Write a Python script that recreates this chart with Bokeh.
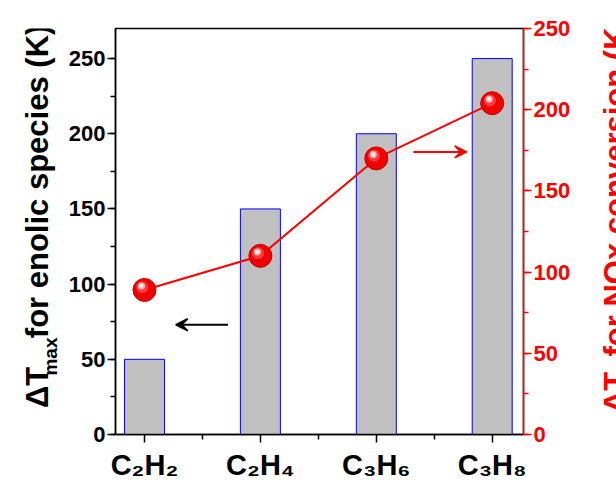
import math
from bokeh.plotting import figure
from bokeh.layouts import row
from bokeh.models import (Range1d, LinearAxis, SingleIntervalTicker, FixedTicker,
                          Arrow, VeeHead, ColumnDataSource)
from bokeh.core.properties import value
from bokeh.transform import dodge
from bokeh.embed import file_html
from bokeh.resources import INLINE

# ---- data ----
categories = ["C\u2082H\u2082", "C\u2082H\u2084", "C\u2083H\u2086", "C\u2083H\u2088"]
xpos = [1, 2, 3, 4]
dT_max = [50, 150, 200, 250]       # left axis, bars
dT_50 = [89, 110, 170, 204]        # right axis, red spheres
left_title_parts = ["\u0394T", "max", "for enolic species (K)"]
right_title_parts = ["\u0394T", "50", "for NOx conversion (K)"]
left_ticks_interval = 50
right_ticks_interval = 50
# arrow annotations (data coords)
black_arrow = dict(x_start=1.72, x_end=1.27, y=73)
red_arrow = dict(x_start=3.32, x_end=3.78, y=174)

FONT = "Liberation Sans"
H = 489
LW, RW = 58, 40
MW = 616 - LW - RW

p = figure(width=MW, height=H, output_backend="svg", toolbar_location=None,
           x_range=Range1d(0.75, 4.27), y_range=Range1d(0, 270),
           min_border_left=57, min_border_right=53, min_border_top=28,
           min_border_bottom=55, background_fill_color="white",
           border_fill_color="white")
p.extra_y_ranges = {"right": Range1d(0, 250)}
p.grid.visible = False
p.outline_line_color = "black"
p.outline_line_width = 1.5

src = ColumnDataSource(dict(x=xpos, bar=dT_max, t50=dT_50))

# bars
p.vbar(x="x", top="bar", width=0.345, source=src, fill_color="#c0c0c0",
       line_color="#0000ff", line_width=1)

# line + spheres
rr = p.extra_y_ranges["right"]
p.line(x="x", y="t50", source=src, y_range_name="right", line_color="#ff0000",
       line_width=2)
p.scatter(x="x", y="t50", source=src, y_range_name="right", size=23,
          fill_color="#f00000", line_color="#c80000", line_width=1)
p.scatter(x=dodge("x", -0.02, range=p.x_range), y=dodge("t50", 1.6, range=rr),
          source=src, y_range_name="right", size=12, fill_color="#ff4040",
          line_color=None, fill_alpha=0.9)
p.scatter(x=dodge("x", -0.026, range=p.x_range), y=dodge("t50", 2.4, range=rr),
          source=src, y_range_name="right", size=7, fill_color="#ffb8b8",
          line_color=None)
p.scatter(x=dodge("x", -0.027, range=p.x_range), y=dodge("t50", 2.6, range=rr),
          source=src, y_range_name="right", size=3.5, fill_color="#ffffff",
          line_color=None)

# arrows
p.add_layout(Arrow(end=VeeHead(size=12, fill_color="black", line_color="black", line_width=1.5),
                   x_start=black_arrow["x_start"], y_start=black_arrow["y"],
                   x_end=black_arrow["x_end"], y_end=black_arrow["y"],
                   line_color="black", line_width=2))
p.add_layout(Arrow(end=VeeHead(size=12, fill_color="#ff0000", line_color="#ff0000", line_width=1.5),
                   x_start=red_arrow["x_start"], y_start=red_arrow["y"],
                   x_end=red_arrow["x_end"], y_end=red_arrow["y"],
                   y_range_name="right", line_color="#ff0000", line_width=2))


def style_axis(ax, color):
    ax.axis_line_color = color
    ax.axis_line_width = 1.5
    ax.major_tick_line_color = color
    ax.minor_tick_line_color = color
    ax.major_tick_line_width = 1.5
    ax.minor_tick_line_width = 1.5
    ax.major_tick_out = 8
    ax.major_tick_in = 0
    ax.minor_tick_out = 5
    ax.minor_tick_in = 0
    ax.major_label_text_color = color
    ax.major_label_text_font = FONT
    ax.major_label_text_font_style = "bold"
    ax.major_label_standoff = 2


# left axis
ya = p.yaxis[0]
ya.ticker = SingleIntervalTicker(interval=left_ticks_interval, num_minor_ticks=2)
style_axis(ya, "black")
ya.major_label_text_font_size = "22px"

# right axis
ra = LinearAxis(y_range_name="right",
                ticker=SingleIntervalTicker(interval=right_ticks_interval, num_minor_ticks=2))
style_axis(ra, "#ff0000")
ra.major_label_text_font_size = "22px"
p.add_layout(ra, "right")

# bottom axis
xa = p.xaxis[0]
xa.ticker = FixedTicker(ticks=xpos, minor_ticks=[1.5, 2.5, 3.5])
style_axis(xa, "black")
xa.major_label_overrides = {x: c for x, c in zip(xpos, categories)}
xa.major_label_text_font_size = "29px"
xa.major_label_standoff = 6


# side strips holding the rotated axis titles (pixel coordinates)
def side_strip(w):
    f = figure(width=w, height=H, output_backend="svg", toolbar_location=None,
               x_range=Range1d(0, w), y_range=Range1d(0, H),
               min_border=0, min_border_left=0, min_border_right=0,
               min_border_top=0, min_border_bottom=0,
               x_axis_type=None, y_axis_type=None,
               background_fill_color="white", border_fill_color="white")
    f.outline_line_color = None
    f.grid.visible = False
    return f


def title_text(f, parts, xs, ys, sizes, color):
    for t, x, y, s in zip(parts, xs, ys, sizes):
        f.text(x=[x], y=[y], text=[t], angle=math.pi / 2,
               text_font=value(FONT), text_font_style="bold",
               text_font_size=value(s), text_color=color,
               text_align="left", text_baseline="alphabetic")


lf = side_strip(LW)
title_text(lf, left_title_parts, [37, 50, 37], [32, 71, 116],
           ["31px", "19px", "31px"], "black")

rf = side_strip(RW)
title_text(rf, right_title_parts, [39, 49, 39], [26, 62, 94],
           ["31px", "19px", "31px"], "#ff0000")

layout = row(lf, p, rf, spacing=0)
open("out.html", "w").write(file_html(layout, INLINE))
